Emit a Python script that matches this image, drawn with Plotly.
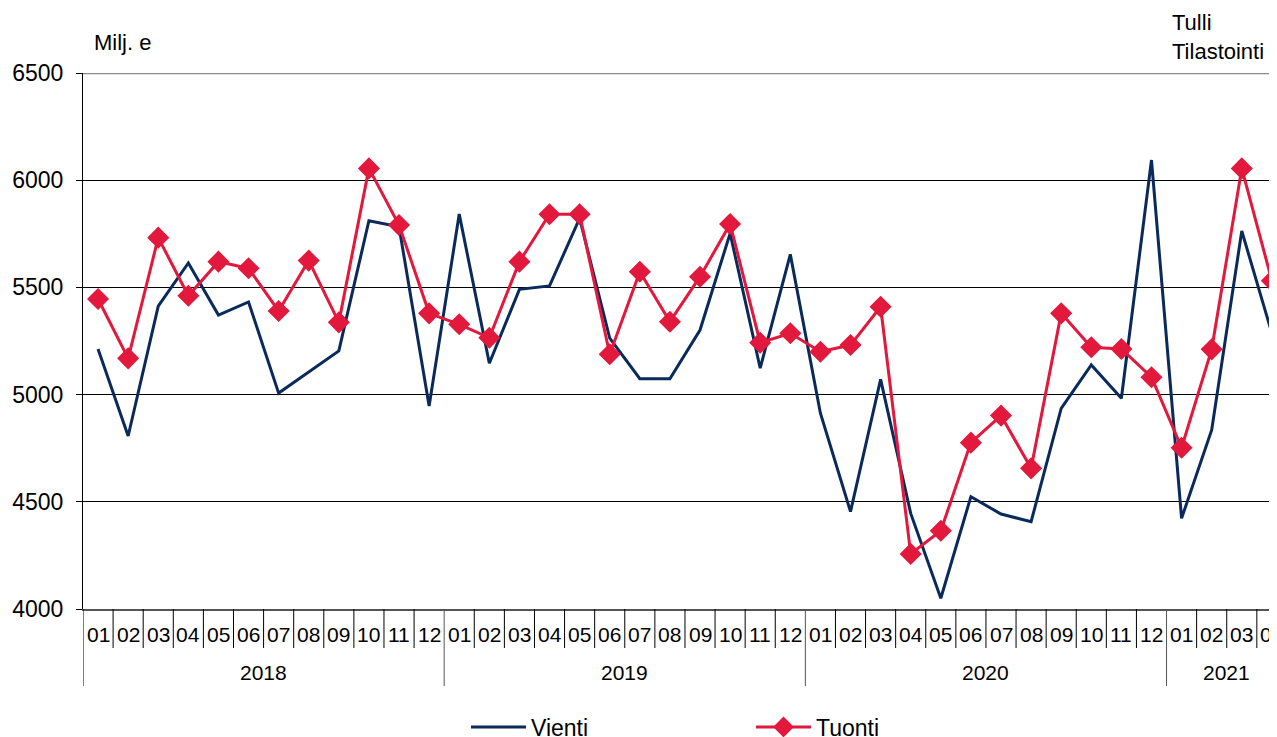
import plotly.graph_objects as go

years = ["2018"] * 12 + ["2019"] * 12 + ["2020"] * 12 + ["2021"] * 4
months = ["01", "02", "03", "04", "05", "06", "07", "08", "09", "10", "11", "12"] * 3 + ["01", "02", "03", "04"]
categories = [f"{y}-{m}" for y, m in zip(years, months)]

vienti = [5213, 4807, 5413, 5614, 5371, 5432, 5007, 5105, 5204, 5811, 5783, 4947,
          5842, 5146, 5491, 5507, 5822, 5263, 5074, 5074, 5301, 5752, 5123, 5654,
          4913, 4454, 5071, 4446, 4050, 4524, 4443, 4407, 4936, 5138, 4983, 6094,
          4423, 4835, 5763, 5286]
tuonti = [5446, 5169, 5732, 5461, 5620, 5589, 5390, 5625, 5337, 6055, 5791, 5379,
          5328, 5265, 5620, 5841, 5841, 5188, 5573, 5340, 5550, 5796, 5242, 5286,
          5200, 5231, 5410, 4257, 4365, 4776, 4902, 4656, 5379, 5221, 5213, 5081,
          4752, 5211, 6055, 5531]

y_ticks = [4000, 4500, 5000, 5500, 6000, 6500]

FONT = "Liberation Sans, Arial, sans-serif"
NAVY = "#0b2a5c"
RED = "#e2183d"

# plot area in page pixels (page has an 8px body margin)
L, T, W, H = 83.0, 73.0, 1194.0, 536.0
FIG_W, FIG_H = 1269, 729


def px_x(p):
    return (p - L) / W


def px_y(p):
    return (T + H - p) / H


fig = go.Figure()
fig.add_trace(go.Scatter(x=categories, y=vienti, name="Vienti", mode="lines",
                         line=dict(color=NAVY, width=3)))
fig.add_trace(go.Scatter(x=categories, y=tuonti, name="Tuonti", mode="lines+markers",
                         line=dict(color=RED, width=3),
                         marker=dict(symbol="diamond", size=17, color=RED)))

shapes = []
for i in range(len(categories) - 1):
    long = years[i] != years[i + 1]
    shapes.append(dict(type="line", xref="x", yref="paper", x0=i + 0.5, x1=i + 0.5,
                       y0=0, y1=-(77 if long else 39) / H,
                       line=dict(color="#000000" if not long else "#555555", width=1)))
shapes.append(dict(type="line", xref="x", yref="paper", x0=-0.5, x1=-0.5,
                   y0=0, y1=-77 / H, line=dict(color="#000000", width=1)))
shapes.append(dict(type="line", xref="paper", yref="y", x0=0, x1=1, y0=6500, y1=6500,
                   line=dict(color="#8a8a8a", width=2.5)))

annotations = []
for i, m in enumerate(months):
    annotations.append(dict(x=i, y=0, xref="x", yref="paper", text=m, showarrow=False,
                            yanchor="middle", yshift=-25,
                            font=dict(family=FONT, size=21, color="#000")))
year_names = ["2018", "2019", "2020", "2021"]
for yname in year_names:
    idx = [i for i, y in enumerate(years) if y == yname]
    annotations.append(dict(x=(idx[0] + idx[-1]) / 2, y=0, xref="x", yref="paper", text=yname,
                            showarrow=False, yanchor="middle", yshift=-63,
                            font=dict(family=FONT, size=21, color="#000")))
annotations.append(dict(x=px_x(92), y=px_y(43), xref="paper", yref="paper",
                        text="Milj. e", showarrow=False, xanchor="left", yanchor="middle",
                        font=dict(family=FONT, size=22, color="#000")))
annotations.append(dict(x=px_x(1170), y=px_y(37), xref="paper", yref="paper",
                        text="Tulli<br>Tilastointi", showarrow=False, xanchor="left",
                        yanchor="middle", align="left",
                        font=dict(family=FONT, size=22, color="#000")))

fig.update_layout(
    width=FIG_W, height=FIG_H,
    margin=dict(l=75, r=0, t=65, b=128, autoexpand=False),
    paper_bgcolor="white", plot_bgcolor="white",
    font=dict(family=FONT, size=22, color="#000"),
    showlegend=True,
    legend=dict(orientation="h", xref="container", yref="container",
                x=(466 - 8) / FIG_W, y=1 - (727 - 8) / FIG_H,
                xanchor="left", yanchor="middle",
                font=dict(family=FONT, size=23, color="#000"),
                itemwidth=55, entrywidth=215, bgcolor="rgba(0,0,0,0)"),
    xaxis=dict(type="category", range=[-0.5, 39.17], showticklabels=False, ticks="",
               showgrid=False, showline=True, linecolor="#555555", linewidth=2,
               zeroline=False, fixedrange=True),
    yaxis=dict(range=[4000, 6500], tickvals=y_ticks, showgrid=True, gridcolor="#000000",
               gridwidth=1, ticks="outside", ticklen=6, tickcolor="#000", showline=True,
               linecolor="#000", linewidth=1, zeroline=False, ticklabelstandoff=8,
               tickfont=dict(family=FONT, size=23, color="#000")),
    shapes=shapes,
    annotations=annotations,
)

fig.write_html("out.html")
